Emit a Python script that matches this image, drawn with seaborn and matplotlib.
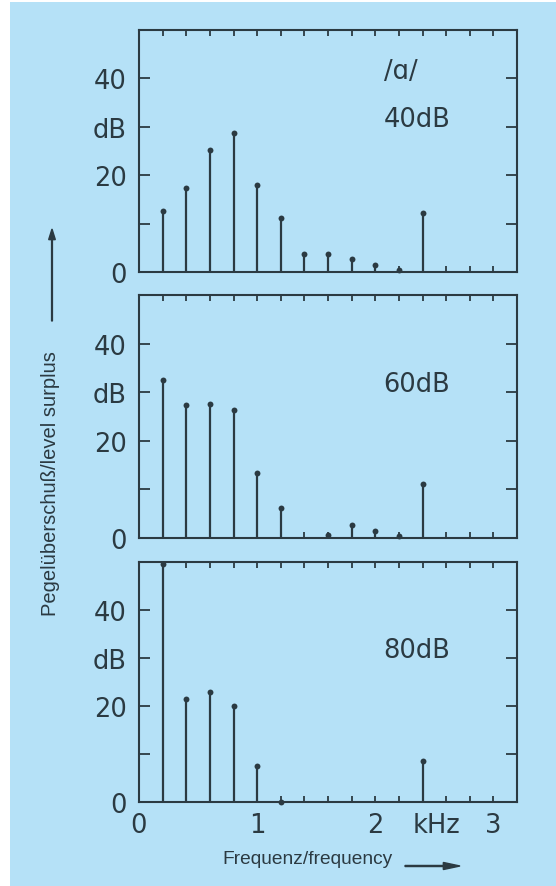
import numpy as np
import pandas as pd
import matplotlib
matplotlib.use('Agg')
import matplotlib.pyplot as plt
from matplotlib.patches import Rectangle, FancyArrow
import seaborn as sns

# Harmonische (kHz) und Pegelüberschuss (dB) je Darbietungspegel
freq = [0.2, 0.4, 0.6, 0.8, 1.0, 1.2, 1.4, 1.6, 1.8, 2.0, 2.2, 2.4]
level_40 = [12.6, 17.4, 25.2, 28.8, 17.9, 11.2, 3.8, 3.7, 2.6, 1.4, 0.4, 12.2]
level_60 = [32.6, 27.3, 27.6, 26.3, 13.3, 6.2, np.nan, 0.6, 2.7, 1.4, 0.5, 11.1]
level_80 = [49.5, 21.4, 22.9, 20.1, 7.5, 0.0, np.nan, np.nan, np.nan, np.nan, np.nan, 8.5]

panel_labels = ['40dB', '60dB', '80dB']
vowel = '/ɑ/'

BG = '#b5e1f7'
INK = '#2b3a42'
W, H = 556, 887

sns.set_style('ticks')
plt.rcParams['font.family'] = ['DejaVu Sans']

fig = plt.figure(figsize=(W / 100, H / 100), dpi=100)
fig.patch.set_facecolor('white')
fig.patches.append(Rectangle((10 / W, 0), 1, 1 - 3 / H, transform=fig.transFigure,
                             facecolor=BG, edgecolor='none', zorder=-10))

x0, x1 = 139, 517
boxes = [(31, 273), (296, 539), (563, 803)]
series = [level_40, level_60, level_80]
big = 18.5

for i, ((top, bot), vals, lab) in enumerate(zip(boxes, series, panel_labels)):
    ax = fig.add_axes([x0 / W, 1 - bot / H, (x1 - x0) / W, (bot - top) / H])
    ax.set_facecolor(BG)
    df = pd.DataFrame({'f': freq, 'dB': vals}).dropna()

    ax.vlines(df['f'], 0, df['dB'], color=INK, lw=1.6, zorder=3)
    sns.scatterplot(data=df, x='f', y='dB', ax=ax, color=INK, s=18,
                    edgecolor=INK, linewidth=0, zorder=4, clip_on=False)

    ax.set_xlim(0, 3.2)
    ax.set_ylim(0, 50)
    for s in ax.spines.values():
        s.set_visible(True)
        s.set_color(INK)
        s.set_linewidth(1.5)

    ax.set_yticks(np.arange(0, 50, 10))
    ax.set_yticklabels(['0', '', '20', 'dB', '40'])
    ax.tick_params(axis='y', direction='in', length=8, width=1.3, color=INK,
                   left=True, right=True, labelsize=big, labelcolor=INK, pad=9)
    xt = np.arange(0, 3.21, 0.2)
    ax.set_xticks(xt)
    ax.tick_params(axis='x', direction='in', length=4, width=1.3, color=INK,
                   top=True, bottom=True)
    if i < 2:
        ax.set_xticklabels([])
    else:
        ax.set_xticklabels([str(int(round(v))) if abs(v - round(v)) < 1e-6 else ''
                            for v in xt])
        ax.tick_params(axis='x', labelsize=big, labelcolor=INK, pad=7)
        ax.text(2.52, -10 / (bot - top), 'kHz', transform=ax.get_xaxis_transform(),
                ha='center', va='top', fontsize=big, color=INK)
    ax.set_xlabel('')
    ax.set_ylabel('')

    ax.text(2.07, 31.6, lab, ha='left', va='center', fontsize=big, color=INK)
    if i == 0:
        ax.text(2.07, 41.5, vowel, ha='left', va='center', fontsize=big, color=INK)

# Achsenbeschriftungen mit Pfeilen
fig.text(51 / W, 1 - 484 / H, 'Pegelüberschuß/level surplus', rotation=90,
         ha='center', va='center', fontsize=14.5, color=INK, family='Liberation Sans')
fig.patches.append(FancyArrow(52 / W, 1 - 322 / H, 0, (322 - 230) / H,
                              width=0.0015, head_width=0.012, head_length=0.012,
                              length_includes_head=True, transform=fig.transFigure,
                              color=INK))
fig.text(308 / W, 1 - 860 / H, 'Frequenz/frequency', ha='center', va='center',
         fontsize=13.8, color=INK, family='Liberation Sans')
fig.patches.append(FancyArrow(405 / W, 1 - 867 / H, (460 - 405) / W, 0,
                              width=0.0012, head_width=0.008, head_length=0.03,
                              length_includes_head=True, transform=fig.transFigure,
                              color=INK))

fig.savefig('out.png', dpi=100, facecolor=fig.get_facecolor())
